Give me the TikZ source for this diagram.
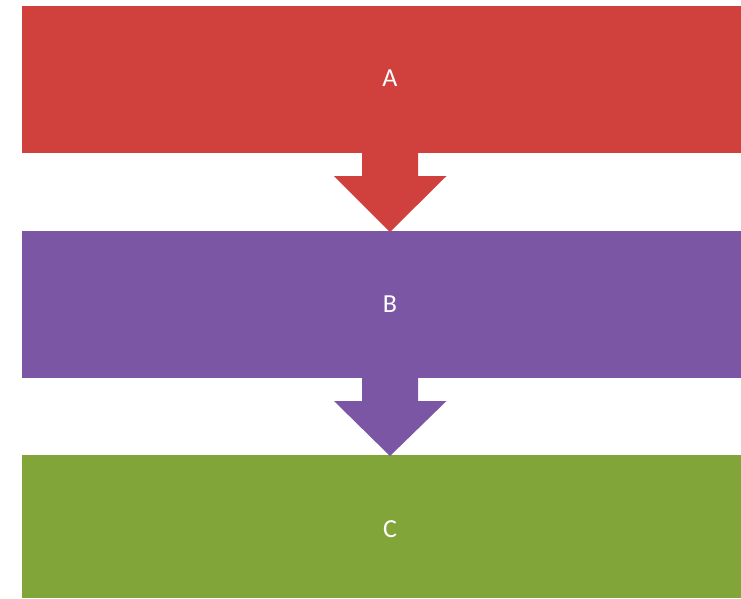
\documentclass[tikz,border=0pt]{standalone}
\usepackage{fontspec}
\setmainfont{Carlito}
\definecolor{cred}{RGB}{208,65,62}
\definecolor{cpurple}{RGB}{123,86,164}
\definecolor{cgreen}{RGB}{130,165,58}
\begin{document}
\begin{tikzpicture}[x=1pt,y=-1pt,
  band/.style={draw=none,inner sep=0pt,outer sep=0pt},
  lbl/.style={text=white,font=\fontsize{26}{30}\selectfont},
  arrowshape/.style={draw=none}]
\useasboundingbox (0,0) rectangle (741,598);
\fill[cred] (21.5,6) rectangle (741,153);
\fill[cpurple] (21.5,231) rectangle (741,378);
\fill[cgreen] (21.5,455) rectangle (741,598);
\node[lbl] (a) at (390,78) {A};
\node[lbl] (b) at (390,304) {B};
\node[lbl] (c) at (390,529) {C};
\fill[cred] (362,152) -- (418,152) -- (418,176) -- (446.5,176) -- (390,232) -- (334,176) -- (362,176) -- cycle;
\fill[cpurple] (362,377) -- (418,377) -- (418,401) -- (446.5,401) -- (390,456) -- (334,401) -- (362,401) -- cycle;
\end{tikzpicture}
\end{document}
